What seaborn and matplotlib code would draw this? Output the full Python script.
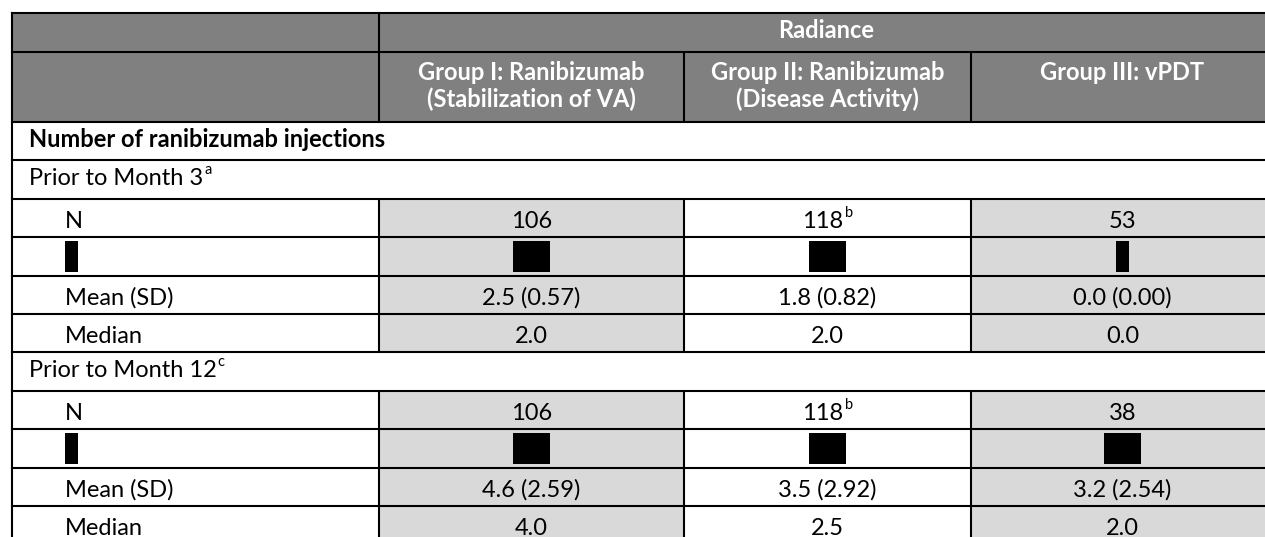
import matplotlib
matplotlib.use("Agg")
import matplotlib.pyplot as plt
from matplotlib.patches import Rectangle
import seaborn as sns

# ---------------- data ----------------
study_label = "Radiance"
group_labels = ["Group I: Ranibizumab\n(Stabilization of VA)",
                "Group II: Ranibizumab\n(Disease Activity)",
                "Group III: vPDT"]
section_title = "Number of ranibizumab injections"
periods = ["Prior to Month 3", "Prior to Month 12"]
period_notes = ["a", "c"]
stat_labels = ["N", "", "Mean (SD)", "Median"]
n_notes = ["", "b", ""]

n_m3 = [106, 118, 53]
mean_m3 = [2.5, 1.8, 0.0]
sd_m3 = [0.57, 0.82, 0.00]
median_m3 = [2.0, 2.0, 0.0]
redacted_m3 = [1, 3, 3, 1]      # redacted glyph count: label, GI, GII, GIII

n_m12 = [106, 118, 38]
mean_m12 = [4.6, 3.5, 3.2]
sd_m12 = [2.59, 2.92, 2.54]
median_m12 = [4.0, 2.5, 2.0]
redacted_m12 = [1, 3, 3, 3]

# ---------------- style ----------------
sns.set_theme(style="white")
FONT = ["Lato", "DejaVu Sans"]
plt.rcParams["font.family"] = FONT

W, H = 1265, 537
HDR_GRAY = "#808080"
CELL_GRAY = "#d9d9d9"
LW = 1.5
FS = 17.0
SUP_FS = 10.5

fig = plt.figure(figsize=(W / 100, H / 100), dpi=100)
ax = fig.add_axes([0, 0, 1, 1])
ax.set_xlim(0, W)
ax.set_ylim(H, 0)
ax.axis("off")
renderer = fig.canvas.get_renderer()

col_x = [12, 379, 684, 971, 1274]
hdr_y = [13, 52, 122]
row_h = 38.4
label_x_section = 29
label_x_indent = 65


def width_of(t):
    bb = t.get_window_extent(renderer)
    return bb.width


def put(x, yb, s, sup="", ha="left", size=FS, weight="normal", color="black"):
    t = ax.text(x, yb, s, ha="left", va="baseline", fontsize=size,
                fontweight=weight, color=color, family=FONT)
    w1 = width_of(t)
    t2 = None
    w2 = 0
    if sup:
        t2 = ax.text(0, yb - 11, sup, ha="left", va="baseline", fontsize=SUP_FS,
                     fontweight=weight, color=color, family=FONT)
        w2 = width_of(t2) + 1
    if ha == "center":
        x0 = x - (w1 + w2) / 2
    else:
        x0 = x
    t.set_x(x0)
    if t2 is not None:
        t2.set_x(x0 + w1 + 1)


# ---------------- build rows ----------------
rows = [("section", section_title, None, None)]
period_data = [
    (n_m3, mean_m3, sd_m3, median_m3, redacted_m3),
    (n_m12, mean_m12, sd_m12, median_m12, redacted_m12),
]
for p, note, (n, m, s, med, red) in zip(periods, period_notes, period_data):
    rows.append(("period", p, note, None))
    rows.append(("data", stat_labels[0], [str(v) for v in n], n_notes))
    rows.append(("redact", stat_labels[1], red, None))
    rows.append(("data", stat_labels[2],
                 [f"{a:.1f} ({b:.2f})" for a, b in zip(m, s)], None))
    rows.append(("data", stat_labels[3], [f"{v:.1f}" for v in med], None))

# ---------------- header ----------------
ax.add_patch(Rectangle((col_x[0], hdr_y[0]), col_x[-1] - col_x[0],
                       hdr_y[2] - hdr_y[0], facecolor=HDR_GRAY, edgecolor="none"))
put((col_x[1] + col_x[-1]) / 2, hdr_y[0] + 25, study_label, ha="center",
    weight="bold", color="white")
for i, g in enumerate(group_labels):
    cx = (col_x[i + 1] + col_x[i + 2]) / 2
    for k, line in enumerate(g.split("\n")):
        put(cx, hdr_y[1] + 28 + k * 26.7, line, ha="center", weight="bold",
            color="white")

# ---------------- body ----------------
top = hdr_y[2]
for r, (kind, label, vals, notes) in enumerate(rows):
    y0 = top + r * row_h
    y1 = y0 + row_h
    if kind in ("data", "redact"):
        for ci in (0, 2):
            ax.add_patch(Rectangle((col_x[ci + 1], y0), col_x[ci + 2] - col_x[ci + 1],
                                   row_h, facecolor=CELL_GRAY, edgecolor="none"))
        for xv in col_x[1:4]:
            ax.plot([xv, xv], [y0, y1], color="black", lw=LW, solid_capstyle="butt")
    if kind == "section":
        put(label_x_section, y0 + 25, label, weight="bold")
    elif kind == "period":
        put(label_x_section, y0 + 25, label, sup=vals)
    elif kind == "data":
        put(label_x_indent, y0 + 28.8, label)
        for ci, v in enumerate(vals):
            cx = (col_x[ci + 1] + col_x[ci + 2]) / 2
            put(cx, y0 + 28.8, v, sup=(notes[ci] if notes else ""), ha="center")
    elif kind == "redact":
        for ci, cnt in enumerate(vals):
            w = 12 * cnt + 1
            if ci == 0:
                xl = label_x_indent
            else:
                xl = (col_x[ci] + col_x[ci + 1]) / 2 - w / 2
            ax.add_patch(Rectangle((xl, y0 + 3.3), w, row_h - 6.6,
                                   facecolor="black", edgecolor="none"))

# ---------------- grid lines ----------------
n_rows = len(rows)
h_lines = hdr_y + [top + i * row_h for i in range(1, n_rows + 1)]
for yv in h_lines:
    ax.plot([col_x[0], col_x[-1]], [yv, yv], color="black", lw=LW,
            solid_capstyle="projecting")
bottom = top + n_rows * row_h
ax.plot([col_x[0], col_x[0]], [hdr_y[0], bottom], color="black", lw=LW,
        solid_capstyle="projecting")
ax.plot([col_x[1], col_x[1]], [hdr_y[0], hdr_y[2]], color="black", lw=LW)
for xv in col_x[2:4]:
    ax.plot([xv, xv], [hdr_y[1], hdr_y[2]], color="black", lw=LW)

fig.savefig("out.png", dpi=100, facecolor="white")
